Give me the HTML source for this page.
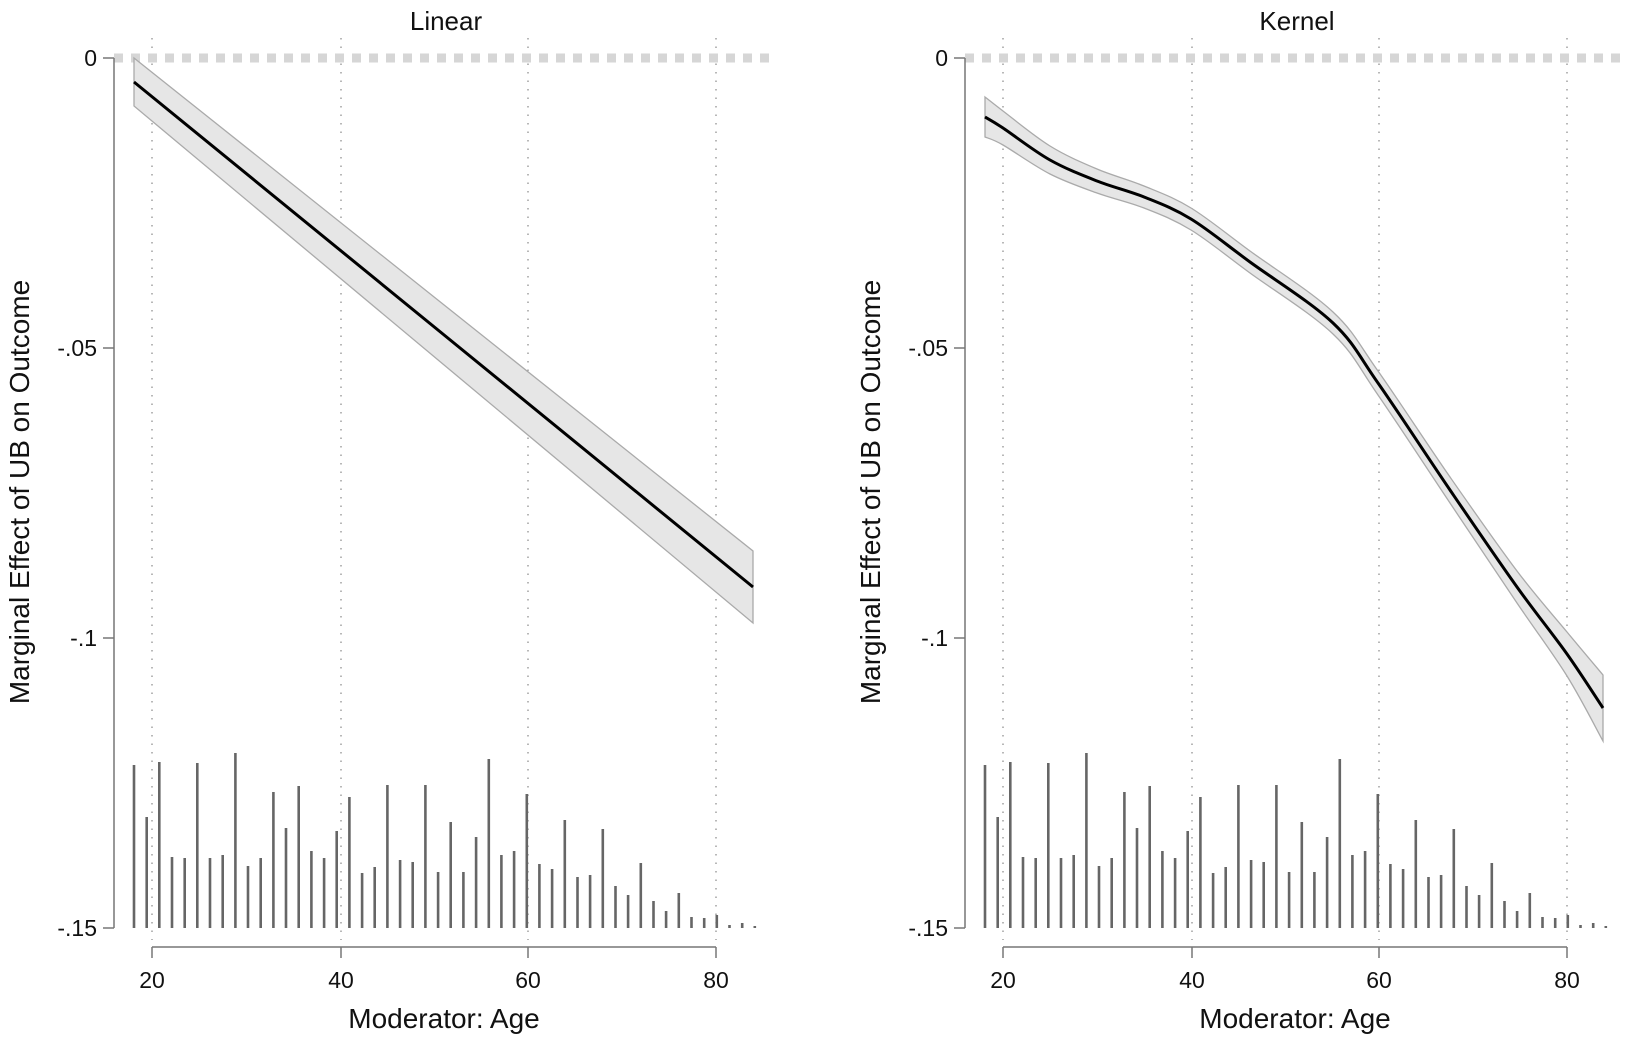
<!DOCTYPE html>
<html><head><meta charset="utf-8"><style>
body{margin:0;background:#fff}
svg{display:block}
text{font-family:"Liberation Sans",Arial,sans-serif;fill:#111}
</style></head><body>
<svg id="s" width="1625" height="1038" xmlns="http://www.w3.org/2000/svg"></svg>
<script>
const s=document.getElementById('s');let h='';
const tops=[765,817,762,857,858,763,858,855,753,866,858,792,828,786,851,858,831,797,873,867,785,860,862,785,872,822,872,837,759,855,851,794,864,869,820,877,875,829,886,895,863,901,911,893,917,918,915,925,923,926];
function yv(v){return 58+(-v)*5800;}
function cr(pts){let d='M'+pts[0][0]+','+pts[0][1];for(let i=0;i<pts.length-1;i++){const p0=pts[Math.max(0,i-1)],p1=pts[i],p2=pts[i+1],p3=pts[Math.min(pts.length-1,i+2)];
d+=' C'+(p1[0]+(p2[0]-p0[0])/6).toFixed(1)+','+(p1[1]+(p2[1]-p0[1])/6).toFixed(1)+' '+(p2[0]-(p3[0]-p1[0])/6).toFixed(1)+','+(p2[1]-(p3[1]-p1[1])/6).toFixed(1)+' '+p2[0]+','+p2[1];}return d;}
function panel(o,title,c,hw){
 const gx=[152,341,528,716];
 gx.forEach(x=>{h+=`<line x1="${x+o}" y1="38" x2="${x+o}" y2="940" stroke="#888" stroke-width="1.2" stroke-dasharray="1.5,7"/>`});
 h+=`<line x1="${114+o}" y1="58" x2="${775+o}" y2="58" stroke="#d6d6d6" stroke-width="9" stroke-dasharray="9,8"/>`;
 const up=c.map((p,i)=>[p[0],p[1]-hw[i]]),lo=c.map((p,i)=>[p[0],p[1]+hw[i]]).reverse();
 const du=cr(up),dl=cr(lo);
 h+=`<path d="${du} L${lo[0][0]},${lo[0][1]} ${dl.slice(1).replace(/^[0-9.,]+/,'')} Z" fill="#e6e6e6" stroke="#aaa" stroke-width="1.3"/>`;
 h+=`<path d="${cr(c)}" fill="none" stroke="#000" stroke-width="3"/>`;
 tops.forEach((t,i)=>{const x=134+i*12.67+o;h+=`<rect x="${(x-1.3).toFixed(1)}" y="${t}" width="2.6" height="${928-t}" fill="#666"/>`});
 h+=`<line x1="${114+o}" y1="58" x2="${114+o}" y2="928" stroke="#777" stroke-width="1.5"/>`;
 [[0,'0'],[-.05,'-.05'],[-.1,'-.1'],[-.15,'-.15']].forEach(([v,l])=>{const y=yv(v);
  h+=`<line x1="${103+o}" y1="${y}" x2="${114+o}" y2="${y}" stroke="#777" stroke-width="1.5"/><text x="${97+o}" y="${y+8}" font-size="23" text-anchor="end">${l}</text>`});
 h+=`<line x1="${152+o}" y1="947" x2="${716+o}" y2="947" stroke="#777" stroke-width="1.5"/>`;
 [20,40,60,80].forEach((a,i)=>{const x=gx[i]+o;h+=`<line x1="${x}" y1="947" x2="${x}" y2="958" stroke="#777" stroke-width="1.5"/><text x="${x}" y="988" font-size="23" text-anchor="middle">${a}</text>`});
 h+=`<text x="${446+o}" y="30" font-size="26" text-anchor="middle">${title}</text>`;
 h+=`<text x="${444+o}" y="1028" font-size="28" text-anchor="middle">Moderator: Age</text>`;
 h+=`<text transform="translate(${29+o},492) rotate(-90)" font-size="28" text-anchor="middle">Marginal Effect of UB on Outcome</text>`;
}
panel(0,'Linear',[[134,82],[753,587]],[24,36]);
panel(851,'Kernel',[[985,117],[1003,128],[1050,160],[1097,181],[1144,197],[1191,219],[1250,262],[1333,323],[1378,383],[1450,490],[1517,587],[1567,654],[1603,708]],[20,17,14,12,11,11,11,11,12,13,16,22,33]);
s.innerHTML=h;
</script>
</body></html>
